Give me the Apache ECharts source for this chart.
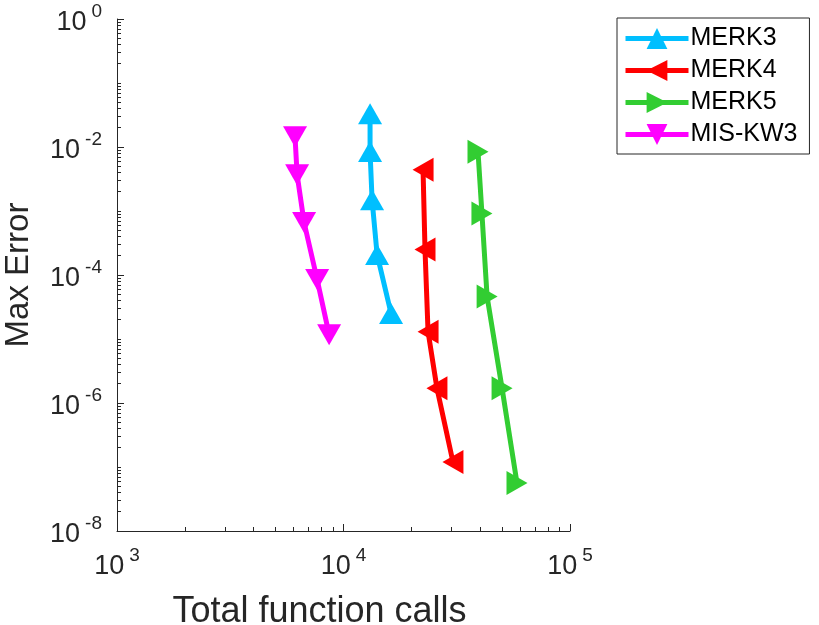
<!DOCTYPE html>
<html>
<head>
<meta charset="utf-8">
<script src="https://cdn.jsdelivr.net/npm/echarts@6/dist/echarts.min.js"></script>
<style>
  html, body { margin: 0; padding: 0; background: #fff; }
  #chart { width: 819px; height: 625px; }
</style>
</head>
<body>
<div id="chart"></div>
<script>
// values
const merk3X = [13100, 13100, 13370, 14070, 16220];
const merk3Y = [3.3e-2, 8.5e-3, 1.5e-3, 2.1e-4, 2.5e-5];
const merk4X = [22450, 22900, 23620, 25860, 30430];
const merk4Y = [4.4e-3, 2.5e-4, 1.3e-5, 1.7e-6, 1.2e-7];
const merk5X = [39260, 40850, 43050, 50120, 58340];
const merk5Y = [8.4e-3, 9.1e-4, 4.6e-5, 1.7e-6, 5.6e-8];
const miskw3X = [6110, 6240, 6700, 7650, 8640];
const miskw3Y = [1.44e-2, 3.7e-3, 6.6e-4, 8.5e-5, 1.17e-5];

const xMajor = [1e3, 1e4, 1e5];
const yMajor = [1e-8, 1e-6, 1e-4, 1e-2, 1e0];
const yOdd = [1e-7, 1e-5, 1e-3, 1e-1];

const font = "'Liberation Sans', Arial, sans-serif";
const ink = '#262626';

// minor ticks 2..9 in every decade
const minorTicks = (lo, hi) => {
  const out = [];
  for (let e = lo; e < hi; e++) {
    for (let m = 2; m <= 9; m++) out.push(+(m * Math.pow(10, e)).toPrecision(6));
  }
  return out;
};

const pairs = (xs, ys) => xs.map((x, i) => [x, ys[i]]);

const powLabel = v => {
  const e = Math.round(Math.log10(v));
  return '{b|10}{e|' + e + '}';
};
const labelRich = {
  b: { fontSize: 27, color: ink, fontFamily: font, padding: [8, 0, 0, 0] },
  e: { fontSize: 19, color: ink, fontFamily: font, padding: [0, 0, 14, 5] }
};

const chart = echarts.init(document.getElementById('chart'));

const mkSeries = (name, color, xs, ys, rot) => ({
  name: name,
  type: 'line',
  data: pairs(xs, ys),
  symbol: 'triangle',
  symbolSize: [24, 21],
  symbolRotate: rot,
  showSymbol: true,
  lineStyle: { color: color, width: 5 },
  itemStyle: { color: color },
  emphasis: { disabled: true },
  z: 3
});

const option = {
  animation: false,
  backgroundColor: '#fff',
  textStyle: { fontFamily: font },
  grid: { left: 117, right: 249, top: 19, bottom: 94, containLabel: false, outerBoundsMode: 'none' },
  legend: {
    orient: 'vertical',
    left: 617,
    top: 18,
    padding: [8, 12, 7, 6],
    itemGap: 7,
    itemWidth: 63,
    itemHeight: 26,
    borderColor: '#262626',
    borderWidth: 1,
    lineStyle: { width: 5 },
    textStyle: { fontSize: 25, color: '#000', fontFamily: font, padding: [0, 0, 0, -3] },
    data: ['MERK3', 'MERK4', 'MERK5', 'MIS-KW3']
  },
  xAxis: [
    {
      type: 'log',
      logBase: 10,
      min: 1e3,
      max: 1e5,
      name: 'Total function calls',
      nameLocation: 'middle',
      nameGap: 63,
      nameTextStyle: { fontSize: 36, color: ink, fontFamily: font, padding: [0, 48, 0, 0] },
      axisLine: { lineStyle: { color: ink, width: 1 } },
      axisTick: { inside: true, length: 7, lineStyle: { color: ink }, customValues: xMajor },
      axisLabel: { formatter: powLabel, rich: labelRich, margin: 14, customValues: xMajor },
      splitLine: { show: false },
      minorTick: { show: false }
    },
    {
      type: 'log',
      logBase: 10,
      min: 1e3,
      max: 1e5,
      gridIndex: 0,
      position: 'bottom',
      axisLine: { show: false },
      axisLabel: { show: false },
      axisTick: { inside: true, length: 4, lineStyle: { color: ink }, customValues: minorTicks(3, 5) },
      splitLine: { show: false }
    }
  ],
  yAxis: [
    {
      type: 'log',
      logBase: 10,
      min: 1e-8,
      max: 1e0,
      name: 'Max Error',
      nameLocation: 'middle',
      nameGap: 82,
      nameTextStyle: { fontSize: 33, color: ink, fontFamily: font },
      axisLine: { show: true, lineStyle: { color: ink, width: 1 } },
      axisTick: { show: true, inside: true, length: 7, lineStyle: { color: ink }, customValues: yMajor },
      axisLabel: { formatter: powLabel, rich: labelRich, margin: 15, customValues: yMajor },
      splitLine: { show: false }
    },
    {
      type: 'log',
      logBase: 10,
      min: 1e-8,
      max: 1e0,
      gridIndex: 0,
      position: 'left',
      offset: 0,
      axisLine: { show: false },
      axisLabel: { show: false },
      axisTick: { show: true, inside: true, length: 4, lineStyle: { color: ink }, customValues: minorTicks(-8, 0).concat(yOdd) },
      splitLine: { show: false }
    }
  ],
  series: [
    mkSeries('MERK3', '#00BFFF', merk3X, merk3Y, 0),
    mkSeries('MERK4', '#FF0000', merk4X, merk4Y, 90),
    mkSeries('MERK5', '#32CD32', merk5X, merk5Y, -90),
    mkSeries('MIS-KW3', '#FF00FF', miskw3X, miskw3Y, 180)
  ]
};

chart.setOption(option);
</script>
</body>
</html>
